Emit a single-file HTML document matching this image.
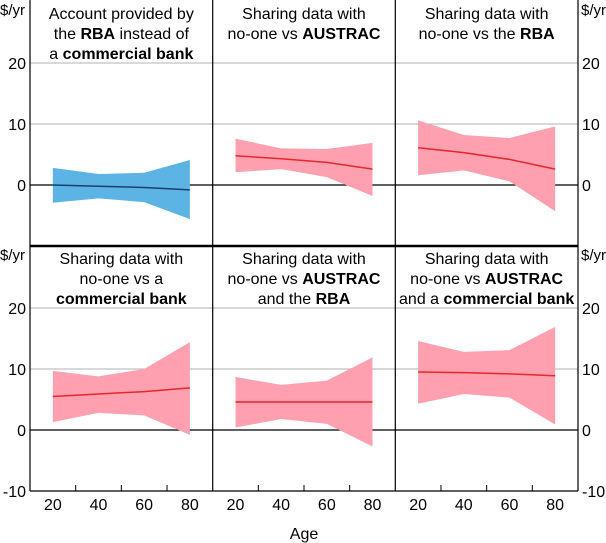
<!DOCTYPE html>
<html><head><meta charset="utf-8"><style>
body{margin:0;background:#fff}
svg{display:block;font-family:"Liberation Sans",Arial,sans-serif}
</style></head><body>
<svg id="c" width="606" height="543" viewBox="0 0 606 543"></svg>
<script>
const ages=[20,40,60,80];
const yTicks=[-10,0,10,20];
const xTicks=[20,40,60,80];
const titles=[
 [["Account provided by"],["the ",["RBA"]," instead of"],["a ",["commercial bank"]]],
 [["Sharing data with"],["no-one vs ",["AUSTRAC"]]],
 [["Sharing data with"],["no-one vs the ",["RBA"]]],
 [["Sharing data with"],["no-one vs a"],[["commercial bank"]]],
 [["Sharing data with"],["no-one vs ",["AUSTRAC"]],["and the ",["RBA"]]],
 [["Sharing data with"],["no-one vs ",["AUSTRAC"]],["and a ",["commercial bank"]]]
];
const meanVals=[[0,-0.2,-0.4,-0.8],[4.8,4.3,3.7,2.6],[6.1,5.3,4.2,2.6],[5.5,5.9,6.3,6.9],[4.6,4.6,4.6,4.6],[9.5,9.4,9.2,8.9]];
const upperVals=[[2.8,1.8,2.0,4.1],[7.6,6.0,5.9,6.9],[10.6,8.2,7.7,9.6],[9.7,8.8,10.0,14.4],[8.7,7.4,8.1,11.9],[14.6,12.8,13.1,16.9]];
const lowerVals=[[-2.9,-2.2,-2.8,-5.6],[2.1,2.6,1.3,-1.8],[1.6,2.4,0.6,-4.3],[1.3,2.8,2.4,-0.8],[0.4,1.8,1.0,-2.7],[4.3,5.9,5.3,0.9]];

const svg=document.getElementById('c');
const NS='http://www.w3.org/2000/svg';
function mk(t,a,p){const e=document.createElementNS(NS,t);for(const k in a)e.setAttribute(k,a[k]);(p||svg).appendChild(e);return e;}
const colX=[30,212.7,395.3,578];
const rowTop=[2,247];
const FS=16;
function sx(c,v){return colX[c]+(v-10)*(colX[c+1]-colX[c])/80;}
function sy(r,v){return rowTop[r]+(30-v)*6.1;}

for(let r=0;r<2;r++){
 for(const t of yTicks){
  if(t<=-10)continue;
  const l=mk('line',{x1:30,x2:578,y1:sy(r,t),y2:sy(r,t),stroke:t===0?'#000':'#b0b0b0','stroke-width':t===0?1.2:1});
  
  
 }
}
for(let p=0;p<6;p++){
 const r=Math.floor(p/3),c=p%3;
 const g=mk('g',{});
 
 
 let pts=ages.map((a,i)=>sx(c,a)+','+sy(r,upperVals[p][i]));
 pts=pts.concat(ages.map((a,i)=>sx(c,a)+','+sy(r,lowerVals[p][i])).reverse());
 const band=mk('polygon',{points:pts.join(' '),fill:p===0?'#5bb4e3':'#ffa0b0'},g);
 
 
 const ln=mk('polyline',{points:ages.map((a,i)=>sx(c,a)+','+sy(r,meanVals[p][i])).join(' '),fill:'none',stroke:p===0?'#1d3f6e':'#e8262d','stroke-width':1.5},g);
 
 
 const lines=titles[p];
 lines.forEach((ln2,i)=>{
  const t=mk('text',{x:(colX[c]+colX[c+1])/2,y:sy(r,30)+17+i*20,'text-anchor':'middle','font-size':FS,fill:'#000'},g);
  
  
  ln2.forEach(part=>{
   const s=mk('tspan',{},t);
   if(Array.isArray(part)){s.textContent=part[0];s.setAttribute('font-weight','bold');}
   else s.textContent=part;
  });
 });
}
const fr=[[30,0,30,491],[578,0,578,491],[212.7,0,212.7,491],[395.3,0,395.3,491],[30,491,578,491]];
fr.forEach(f=>{const l=mk('line',{x1:f[0],y1:f[1],x2:f[2],y2:f[3],stroke:'#000','stroke-width':1.2});
 });
const sep=mk('line',{x1:30,x2:578,y1:246,y2:246,stroke:'#000','stroke-width':2.5});


for(let r=0;r<2;r++){
 for(const t of yTicks){
  if(r===0&&t===-10)continue;
  const y=sy(r,t)+6;
  const a=mk('text',{x:26,y:y,'text-anchor':'end','font-size':FS});a.textContent=t;
  
  const b=mk('text',{x:582,y:y,'text-anchor':'start','font-size':FS});b.textContent=t;
  
 }
 const u1=mk('text',{x:0,y:rowTop[r]+13,'font-size':15});u1.textContent='$/yr';
 
 const u2=mk('text',{x:606,y:rowTop[r]+13,'font-size':15,'text-anchor':'end'});u2.textContent='$/yr';
 
}
for(let c=0;c<3;c++){
 for(const v of [30,50,70]){
  const l=mk('line',{x1:sx(c,v),x2:sx(c,v),y1:485,y2:491,stroke:'#000'});
  
 }
 for(const v of xTicks){
  const t=mk('text',{x:sx(c,v),y:510,'text-anchor':'middle','font-size':FS});t.textContent=v;
  
 }
}
const at=mk('text',{x:304,y:539,'text-anchor':'middle','font-size':FS});at.textContent='Age';


</script>
</body></html>
